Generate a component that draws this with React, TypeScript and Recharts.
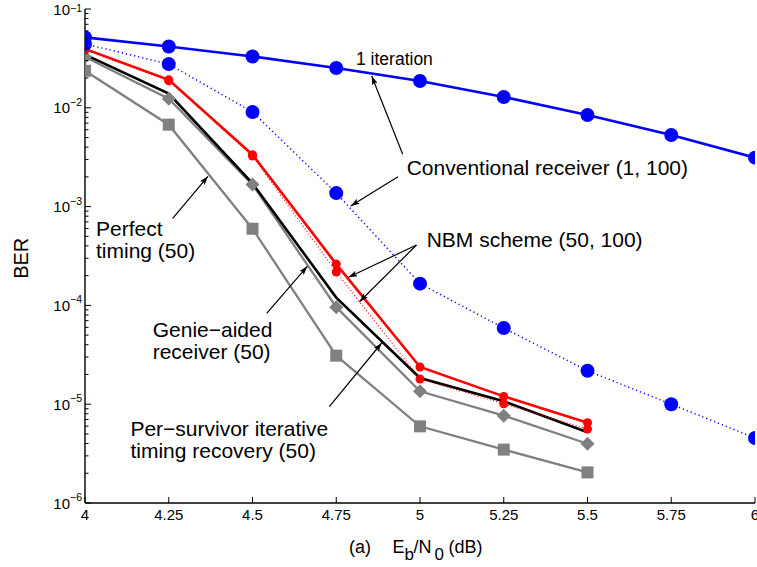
import React from 'react';
import { LineChart, Line, XAxis, YAxis } from 'recharts';

// ---------- data ----------
const ebn0 = [4, 4.25, 4.5, 4.75, 5, 5.25, 5.5, 5.75, 6];
const conv1Iter = [0.0516, 0.0418, 0.0331, 0.0253, 0.0187, 0.01285, 0.00845, 0.00531, 0.00313];
const conv100Iter = [0.0443, 0.0277, 0.00906, 0.00137, 1.66e-4, 5.9e-5, 2.18e-5, 1.0e-5, 4.55e-6];
const nbmSolid = [0.0394, 0.0192, 0.00335, 2.62e-4, 2.38e-5, 1.2e-5, 6.5e-6];
const nbmDotted = [0.0385, 0.0188, 0.00325, 2.18e-4, 1.8e-5, 1.01e-5, 5.6e-6];
const genie = [0.0345, 0.0139, 0.00172, 1.2e-4, 1.84e-5, 1.07e-5, 5.2e-6];
const perSurvivor = [0.0327, 0.01236, 0.00167, 9.6e-5, 1.35e-5, 7.66e-6, 3.98e-6];
const perfectTiming = [0.0237, 0.00675, 5.97e-4, 3.1e-5, 5.97e-6, 3.47e-6, 2.04e-6];

const xTicks = [4, 4.25, 4.5, 4.75, 5, 5.25, 5.5, 5.75, 6];
const decades = [-6, -5, -4, -3, -2, -1];

const yTicks: number[] = [];
decades.forEach((d) => {
  if (d === -1) {
    yTicks.push(0.1);
  } else {
    for (let m = 1; m <= 9; m++) yTicks.push(Number((m * Math.pow(10, d)).toPrecision(3)));
  }
});

const data = ebn0.map((x, i) => ({
  x,
  conv1: conv1Iter[i],
  conv100: conv100Iter[i],
  nbmSolid: nbmSolid[i],
  nbmDotted: nbmDotted[i],
  genie: genie[i],
  psp: perSurvivor[i],
  perfect: perfectTiming[i],
}));

const FONT = "'Liberation Sans', Arial, Helvetica, sans-serif";
const BLUE = '#0000ff';
const RED = '#ff0000';
const GRAY = '#808080';

const isMajor = (v: number) => {
  const l = Math.log10(v);
  return Math.abs(l - Math.round(l)) < 1e-6;
};

// ---------- ticks ----------
const LeftTick = (props: any) => {
  const { x, y, payload } = props;
  const v = payload.value;
  const major = isMajor(v);
  const len = major ? 6 : 3.5;
  const exp = Math.round(Math.log10(v));
  const isTop = exp === -1;
  return (
    <g>
      <line x1={x} y1={y} x2={x + len} y2={y} stroke="#000" strokeWidth={1} />
      {major && (
        <text x={x - 3} y={y + (isTop ? 6 : 5.6)} textAnchor="end" fontFamily={FONT} fill="#000">
          <tspan fontSize={15}>10</tspan>
          <tspan fontSize={10.5} dy={isTop ? -3 : -7.6}>{'\u2212' + String(-exp)}</tspan>
        </text>
      )}
    </g>
  );
};

const RightTick = (props: any) => {
  const { x, y, payload } = props;
  const major = isMajor(payload.value);
  const len = major ? 6 : 3.5;
  return <line x1={x} y1={y} x2={x - len} y2={y} stroke="#000" strokeWidth={1} />;
};

const BottomTick = (props: any) => {
  const { x, y, payload } = props;
  return (
    <g>
      <line x1={x} y1={y} x2={x} y2={y - 6} stroke="#000" strokeWidth={1} />
      <text x={x} y={y + 17.3} textAnchor="middle" fontFamily={FONT} fontSize={15} fill="#000">
        {String(payload.value)}
      </text>
    </g>
  );
};

const TopTick = (props: any) => {
  const { x, y } = props;
  return <line x1={x} y1={y} x2={x} y2={y + 6} stroke="#000" strokeWidth={1} />;
};

// ---------- markers ----------
const circleDot = (r: number, color: string) => (p: any) => {
  const k = `c${p.index}`;
  if (p.cx == null || p.cy == null || p.value == null) return <g key={k} />;
  return <circle key={k} cx={p.cx} cy={p.cy} r={r} fill={color} stroke="none" />;
};

const squareDot = (p: any) => {
  const k = `s${p.index}`;
  if (p.cx == null || p.cy == null || p.value == null) return <g key={k} />;
  return <rect key={k} x={p.cx - 6} y={p.cy - 6} width={12} height={12} fill={GRAY} stroke="none" />;
};

const diamondDot = (p: any) => {
  const k = `d${p.index}`;
  if (p.cx == null || p.cy == null || p.value == null) return <g key={k} />;
  const h = 7;
  return (
    <path
      key={k}
      d={`M${p.cx},${p.cy - h} L${p.cx + h},${p.cy} L${p.cx},${p.cy + h} L${p.cx - h},${p.cy} Z`}
      fill={GRAY}
      stroke="none"
    />
  );
};

// ---------- annotations ----------
const arrows: [number, number, number, number][] = [
  [402.7, 154.3, 371.7, 76],
  [398, 176.7, 350.7, 206],
  [416.5, 245, 348.5, 277.3],
  [416.5, 245, 359.5, 301.7],
  [172.7, 218.3, 208, 176.3],
  [266.7, 313.3, 307.3, 266.3],
  [329.3, 406.7, 381.7, 343],
];

const Overlay = () => (
  <svg
    width={757}
    height={567}
    style={{ position: 'absolute', left: 0, top: 0, pointerEvents: 'none' }}
    fontFamily={FONT}
  >
    <defs>
      <marker id="ah" markerWidth="9" markerHeight="6" refX="9" refY="3" orient="auto" markerUnits="userSpaceOnUse">
        <path d="M0,0 L9,3 L0,6 L2,3 Z" fill="#000" />
      </marker>
    </defs>
    {arrows.map(([x1, y1, x2, y2], i) => (
      <line key={i} x1={x1} y1={y1} x2={x2} y2={y2} stroke="#000" strokeWidth={1.2} markerEnd="url(#ah)" />
    ))}
    <text x={356} y={65} fontSize={17.5} fill="#000">1 iteration</text>
    <text x={406.7} y={175} fontSize={21} fill="#000">Conventional receiver (1, 100)</text>
    <text x={426.7} y={246.7} fontSize={21} fill="#000">NBM scheme (50, 100)</text>
    <text x={96} y={236} fontSize={21} fill="#000">Perfect</text>
    <text x={96} y={257.5} fontSize={21} fill="#000">timing (50)</text>
    <text x={152.7} y={337.3} fontSize={21} fill="#000">Genie{'\u2212'}aided</text>
    <text x={152.7} y={359} fontSize={21} fill="#000">receiver (50)</text>
    <text x={130.4} y={436} fontSize={21} fill="#000">Per{'\u2212'}survivor iterative</text>
    <text x={130.4} y={458} fontSize={21} fill="#000">timing recovery (50)</text>

    <text transform="translate(27.7,258.3) rotate(-90)" textAnchor="middle" fontSize={20} fill="#000">BER</text>

    <text x={349} y={552.7} fontSize={18} fill="#000">(a)</text>
    <text x={392.5} y={552.7} fontSize={18} fill="#000">E</text>
    <text x={404.5} y={560} fontSize={17} fill="#000">b</text>
    <text x={413.5} y={552.7} fontSize={18} fill="#000">/N</text>
    <text x={434.5} y={560} fontSize={17} fill="#000">0</text>
    <text x={448.5} y={552.7} fontSize={18} fill="#000">(dB)</text>
  </svg>
);

export default function App() {
  const axisLine = { stroke: '#000', strokeWidth: 1.4 };
  return (
    <div style={{ position: 'absolute', left: 0, top: 0, width: 757, height: 567, background: '#fff' }}>
      <LineChart width={757} height={567} data={data} margin={{ top: 9, right: 2, bottom: 34, left: 0 }}>
        <XAxis
          dataKey="x"
          type="number"
          domain={[4, 6]}
          ticks={xTicks}
          interval={0}
          tickSize={0}
          tickMargin={0}
          tickLine={false}
          axisLine={axisLine}
          tick={BottomTick}
          height={30}
          allowDataOverflow
        />
        <XAxis
          xAxisId="top"
          dataKey="x"
          type="number"
          orientation="top"
          domain={[4, 6]}
          ticks={xTicks}
          interval={0}
          tickSize={0}
          tickMargin={0}
          tickLine={false}
          axisLine={axisLine}
          tick={TopTick}
          height={0}
          allowDataOverflow
        />
        <YAxis
          type="number"
          scale="log"
          domain={[1e-6, 1e-1]}
          ticks={yTicks}
          interval={0}
          tickSize={0}
          tickMargin={0}
          tickLine={false}
          axisLine={axisLine}
          tick={LeftTick}
          width={85}
          allowDataOverflow
        />
        <YAxis
          yAxisId="right"
          orientation="right"
          type="number"
          scale="log"
          domain={[1e-6, 1e-1]}
          ticks={yTicks}
          interval={0}
          tickSize={0}
          tickMargin={0}
          tickLine={false}
          axisLine={axisLine}
          tick={RightTick}
          width={0}
          allowDataOverflow
        />
        <Line dataKey="perfect" stroke={GRAY} strokeWidth={2.3} dot={squareDot} isAnimationActive={false} />
        <Line dataKey="psp" stroke={GRAY} strokeWidth={2.3} dot={diamondDot} isAnimationActive={false} />
        <Line dataKey="genie" stroke="#000" strokeWidth={2.6} dot={false} isAnimationActive={false} />
        <Line
          dataKey="nbmDotted"
          stroke={RED}
          strokeWidth={1.2}
          strokeDasharray="1 2.2"
          dot={circleDot(4.5, RED)}
          isAnimationActive={false}
        />
        <Line dataKey="nbmSolid" stroke={RED} strokeWidth={2.6} dot={circleDot(4.5, RED)} isAnimationActive={false} />
        <Line
          dataKey="conv100"
          stroke={BLUE}
          strokeWidth={1.5}
          strokeDasharray="1.2 3"
          dot={circleDot(7, BLUE)}
          isAnimationActive={false}
        />
        <Line dataKey="conv1" stroke={BLUE} strokeWidth={2.6} dot={circleDot(7, BLUE)} isAnimationActive={false} />
      </LineChart>
      <Overlay />
    </div>
  );
}
